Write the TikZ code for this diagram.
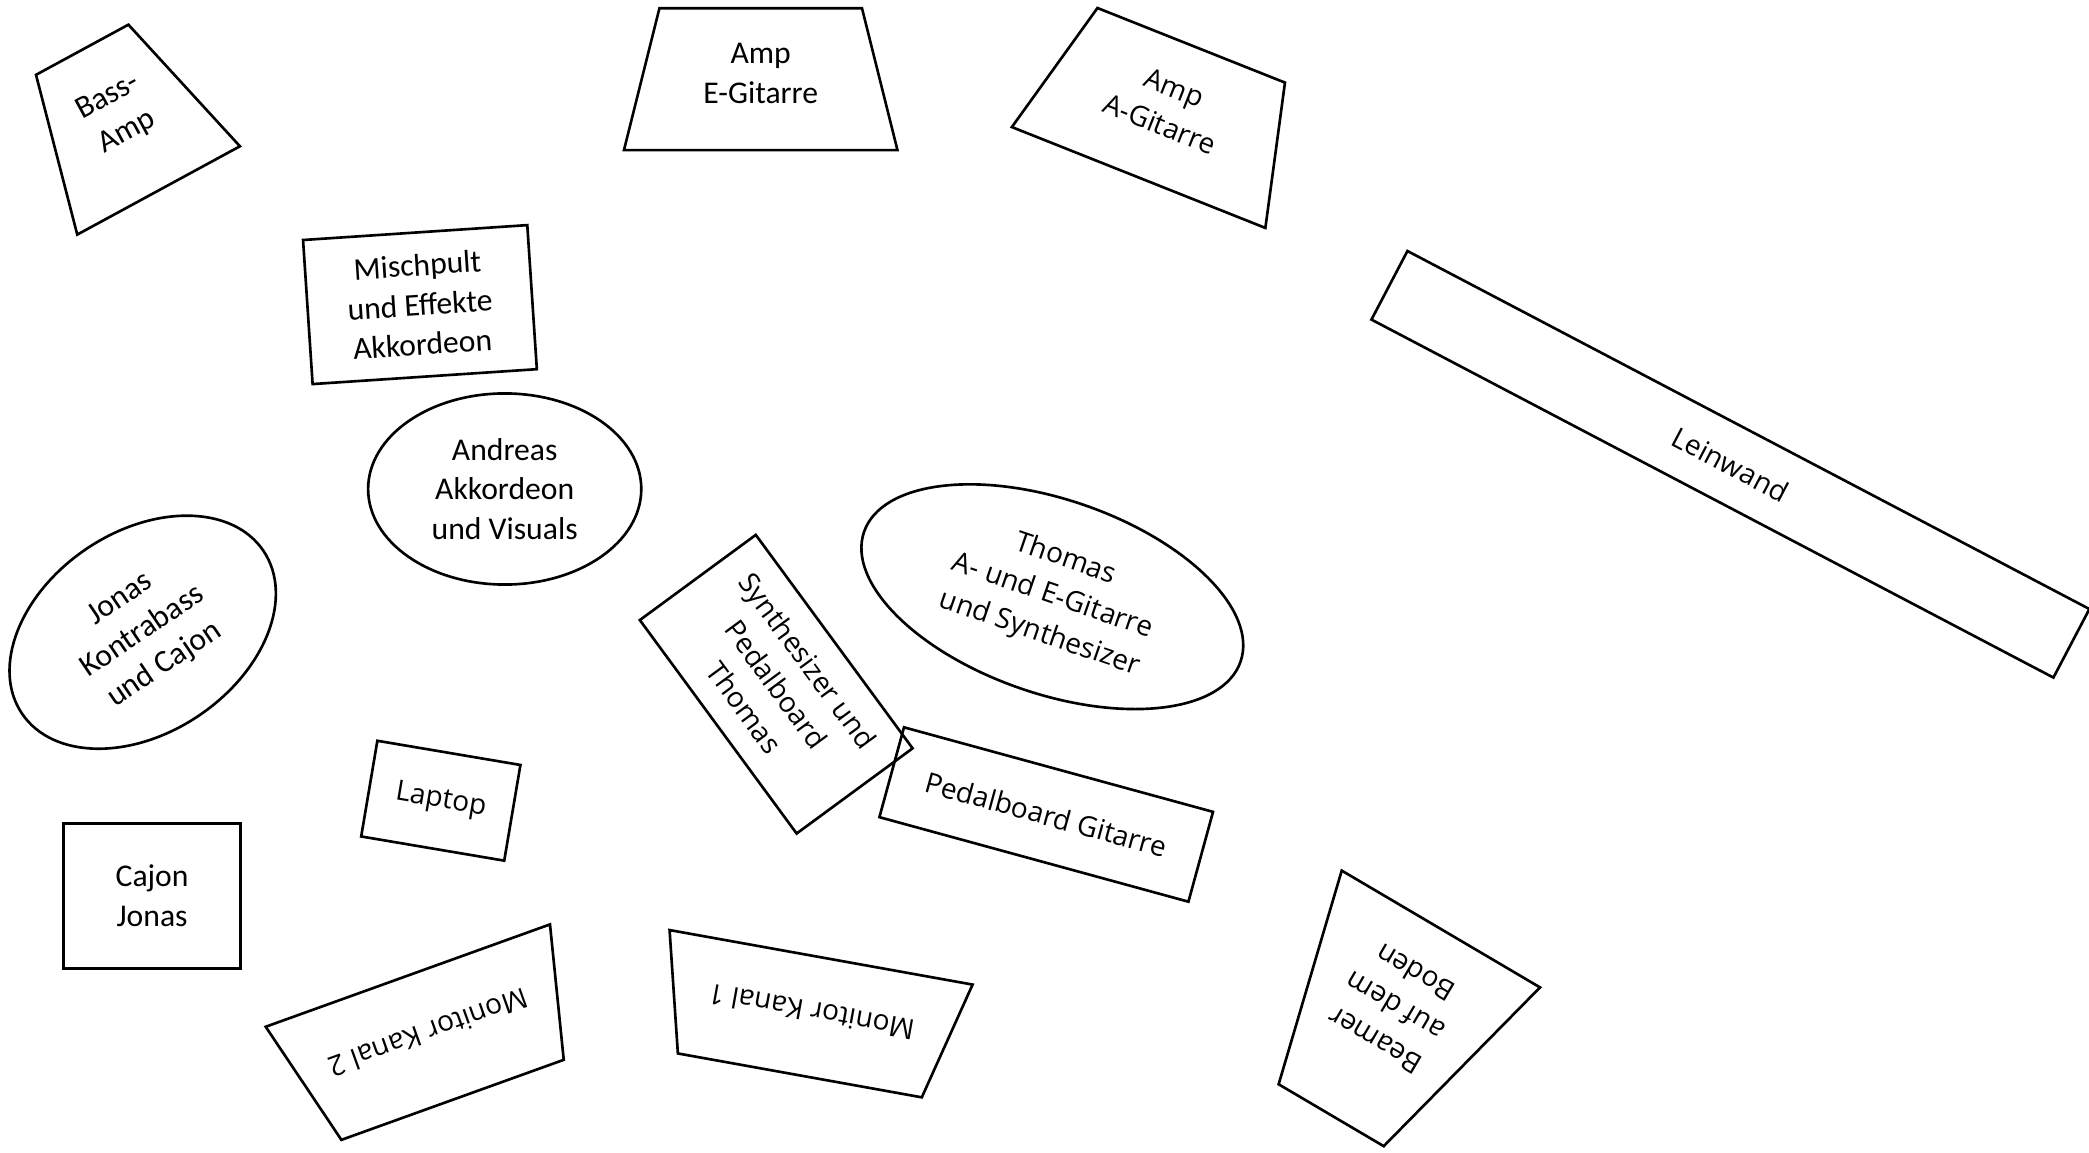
\documentclass[tikz,border=0pt]{standalone}
\usepackage{fontspec}
\setmainfont{Carlito}
\newfontfamily\opensans{Open Sans}
\usetikzlibrary{shapes.geometric, calc}

\begin{document}
\begin{tikzpicture}[
            x = 0.01cm, % one pixel of the stage plan
            y = -0.01cm, % y runs downwards
            line width = 0.75pt, % line style
            every node/.style = {font=\fontsize{9}{11.3}\selectfont, align=center, inner sep=0pt}
        ]

        \tikzstyle{box}=[
            draw = black,
            rectangle
        ]
        \tikzstyle{amp}=[
            rectangle, % trapezium drawn below, from the corners
            outer sep = 0pt
        ]
        \tikzstyle{seat}=[
            draw = black,
            ellipse
        ]
        \tikzstyle{wide}=[
            font = \opensans\fontsize{8}{11.2}\selectfont
        ]

        \useasboundingbox (0,0) rectangle (2089,1152);

        % amps and boxes
        \node[amp, minimum width=1.85cm, minimum height=1.6cm, rotate=28.5] (bassamp) at (120.4,120.1) {};
        \node[amp, minimum width=2.733cm, minimum height=1.417cm] (ampegit) at (760.7,79.2) {};
        \node[amp, minimum width=2.727cm, minimum height=1.422cm, rotate=-21.7] (ampagit) at (1164.9,111.4) {};
        \node[box, minimum width=2.246cm, minimum height=1.443cm, rotate=3.8] (mischpult) at (419.95,304.6) {Mischpult\\und Effekte\\Akkordeon};
        \node[box, wide, minimum width=7.698cm, minimum height=0.774cm, rotate=-27.7] (leinwand) at (1730.4,464.3) {Leinwand};

        % musicians
        \node[seat, minimum width=2.73cm, minimum height=1.91cm] (andreas) at (504.7,489) {Andreas\\Akkordeon\\und Visuals};
        \node[seat, minimum width=2.91cm, minimum height=2.01cm, rotate=34] (jonas) at (142.7,632.2) {Jonas\\Kontrabass\\und Cajon};
        \node[seat, wide, minimum width=3.98cm, minimum height=1.94cm, rotate=-19] (thomas) at (1052.3,596.7) {Thomas\\A- und E-Gitarre\\und Synthesizer};

        \node[box, wide, minimum width=2.647cm, minimum height=1.438cm, rotate=-53.7] (synth) at (776.2,684.2) {Synthesizer und\\Pedalboard\\Thomas};
        \node[box, wide, minimum width=3.202cm, minimum height=0.931cm, rotate=-15.3] (pedalboard) at (1046.2,814.5) {Pedalboard Gitarre};
        \node[box, wide, minimum width=1.45cm, minimum height=0.97cm, rotate=-9.6] (laptop) at (440.8,800.7) {Laptop};
        \node[box, minimum width=1.766cm, minimum height=1.45cm] (cajon) at (152.1,895.8) {Cajon\\Jonas};

        % monitors and beamer
        \node[amp, minimum width=3.02cm, minimum height=1.32cm, rotate=-160.2] (monitorzwei) at (430.2,1037.7) {};
        \node[amp, minimum width=3.077cm, minimum height=1.199cm, rotate=169.8] (monitoreins) at (810.45,1016.35) {};
        \node[amp, minimum width=2.3cm, minimum height=2.16cm, rotate=149.5] (beamer) at (1386,1022.1) {};

        % trapezium outlines, top side pulled in by a quarter of the height
        \draw (bassamp.south west) -- (bassamp.south east) -- ($(bassamp.north east)!0.216!(bassamp.north west)$) -- ($(bassamp.north west)!0.216!(bassamp.north east)$) -- cycle;
        \draw (ampegit.south west) -- (ampegit.south east) -- ($(ampegit.north east)!0.1296!(ampegit.north west)$) -- ($(ampegit.north west)!0.1296!(ampegit.north east)$) -- cycle;
        \draw (ampagit.south west) -- (ampagit.south east) -- ($(ampagit.north east)!0.1302!(ampagit.north west)$) -- ($(ampagit.north west)!0.1302!(ampagit.north east)$) -- cycle;
        \draw (monitorzwei.south west) -- (monitorzwei.south east) -- ($(monitorzwei.north east)!0.109!(monitorzwei.north west)$) -- ($(monitorzwei.north west)!0.109!(monitorzwei.north east)$) -- cycle;
        \draw (monitoreins.south west) -- (monitoreins.south east) -- ($(monitoreins.north east)!0.0975!(monitoreins.north west)$) -- ($(monitoreins.north west)!0.0975!(monitoreins.north east)$) -- cycle;
        \draw (beamer.south west) -- (beamer.south east) -- ($(beamer.north east)!0.235!(beamer.north west)$) -- ($(beamer.north west)!0.235!(beamer.north east)$) -- cycle;

        % texts in the trapezia
        \node[rotate=28.5] (bassamptext) at ($(bassamp.center)!0.075!(bassamp.north)$) {Bass-\\Amp};
        \node (ampegittext) at ($(ampegit.center)!0.085!(ampegit.north)$) {Amp\\E-Gitarre};
        \node[wide, rotate=-21.7] (ampagittext) at ($(ampagit.center)!0.084!(ampagit.north)$) {Amp\\A-Gitarre};
        \node[wide, rotate=-160.2] (monitorzweitext) at ($(monitorzwei.center)!0.073!(monitorzwei.south)$) {Monitor Kanal 2};
        \node[wide, rotate=169.8] (monitoreinstext) at ($(monitoreins.center)!0.067!(monitoreins.south)$) {Monitor Kanal 1};
        \node[wide, rotate=149.5] (beamertext) at ($(beamer.center)!0.167!(beamer.south)$) {Beamer\\auf dem\\Boden};

\end{tikzpicture}
\end{document}
